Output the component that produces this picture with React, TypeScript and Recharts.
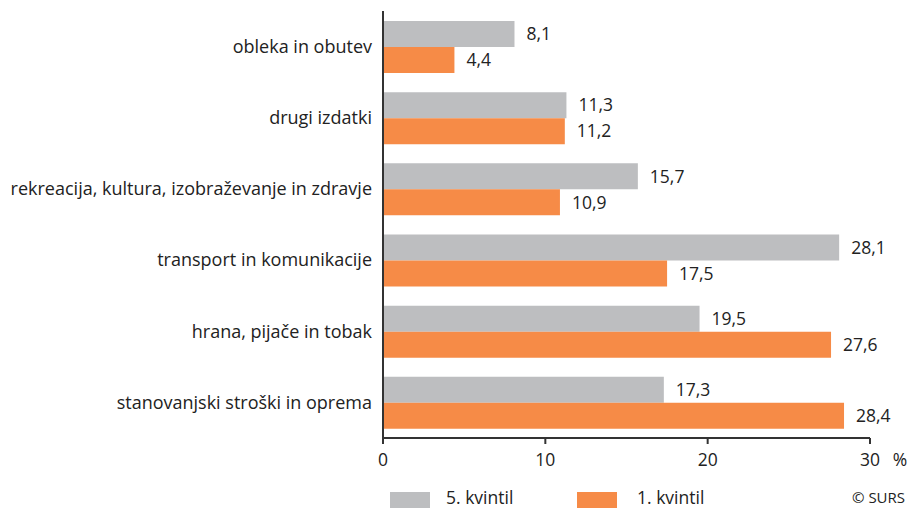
import { BarChart, Bar, XAxis, YAxis, LabelList, Legend } from "recharts";

const categories = [
  "obleka in obutev",
  "drugi izdatki",
  "rekreacija, kultura, izobraževanje in zdravje",
  "transport in komunikacije",
  "hrana, pijače in tobak",
  "stanovanjski stroški in oprema",
];
const quintile5 = [8.1, 11.3, 15.7, 28.1, 19.5, 17.3];
const quintile1 = [4.4, 11.2, 10.9, 17.5, 27.6, 28.4];
const xTicks = [0, 10, 20, 30];

const GRAY = "#bdbec0";
const ORANGE = "#f68b47";
const FONT = "'Open Sans', sans-serif";
const FS = 17.5;

const data = categories.map((name, i) => ({ name, q5: quintile5[i], q1: quintile1[i] }));

const fmt = (v: any) => String(v).replace(".", ",");

function XTick({ x, y, payload }: any) {
  return (
    <g>
      <text x={x} y={y + 20} textAnchor="middle" fontSize={FS} fill="#222" fontFamily={FONT}>
        {payload.value}
      </text>
      {payload.value === 30 && (
        <text x={x + 30} y={y + 20} textAnchor="middle" fontSize={FS} fill="#222" fontFamily={FONT}>
          %
        </text>
      )}
    </g>
  );
}

function LegendBox() {
  const item = (color: string, label: string, left: number, textLeft: number) => (
    <>
      <div style={{ position: "absolute", left, top: 8, width: 40, height: 16, background: color }} />
      <div style={{ position: "absolute", left: textLeft, top: 2, fontSize: FS, lineHeight: "22px", color: "#222", whiteSpace: "nowrap" }}>
        {label}
      </div>
    </>
  );
  return (
    <div style={{ position: "relative", width: 910, height: 24, fontFamily: FONT }}>
      {item(GRAY, "5. kvintil", 390, 446)}
      {item(ORANGE, "1. kvintil", 577, 637)}
      <div style={{ position: "absolute", left: 852, top: 2, fontSize: 15, lineHeight: "22px", color: "#222", whiteSpace: "nowrap" }}>
        © SURS
      </div>
    </div>
  );
}

export default function App() {
  return (
    <div style={{ position: "fixed", left: 0, top: 0, width: 910, height: 508, background: "#fff", overflow: "hidden" }}>
      <BarChart
        width={910}
        height={508}
        data={data}
        layout="vertical"
        margin={{ top: 11, right: 40, bottom: 16, left: 0 }}
        barGap={0}
      >
        <XAxis
          type="number"
          domain={[0, 30]}
          ticks={xTicks}
          height={30}
          axisLine={{ stroke: "#333", strokeWidth: 2 }}
          tickLine={{ stroke: "#333", strokeWidth: 2 }}
          tickSize={6}
          tick={<XTick />}
        />
        <YAxis
          type="category"
          dataKey="name"
          width={383}
          tickLine={false}
          axisLine={{ stroke: "#333", strokeWidth: 2 }}
          tickMargin={5}
          tick={{ fontSize: 18, fill: "#222", fontFamily: FONT }}
        />
        <Legend
          verticalAlign="bottom"
          content={<LegendBox />}
          wrapperStyle={{ position: "absolute", left: 0, top: 484, width: 910, height: 24 }}
        />
        <Bar dataKey="q5" fill={GRAY} barSize={26} isAnimationActive={false}>
          <LabelList dataKey="q5" position="right" offset={12} formatter={fmt} style={{ fontSize: FS, fill: "#222", fontFamily: FONT }} />
        </Bar>
        <Bar dataKey="q1" fill={ORANGE} barSize={26} isAnimationActive={false}>
          <LabelList dataKey="q1" position="right" offset={12} formatter={fmt} style={{ fontSize: FS, fill: "#222", fontFamily: FONT }} />
        </Bar>
      </BarChart>
    </div>
  );
}
